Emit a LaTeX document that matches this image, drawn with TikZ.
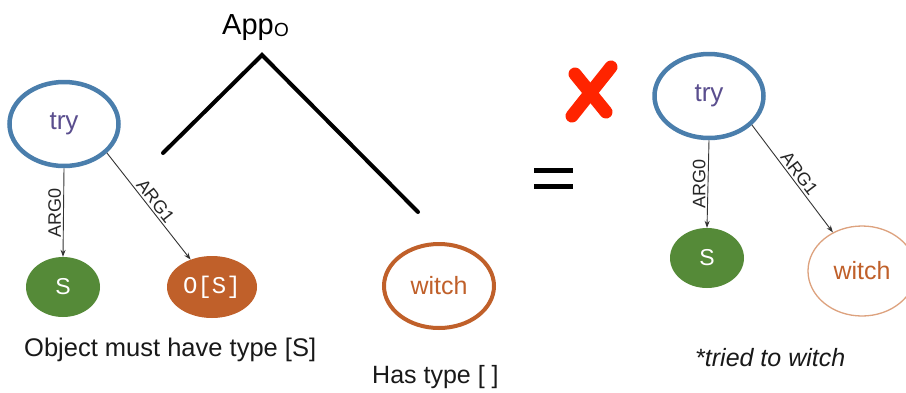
\documentclass[tikz,border=0pt]{standalone}
\usepackage{fontspec}
\setmainfont{Liberation Sans}
\setmonofont{Liberation Mono}
\usetikzlibrary{arrows.meta,shapes.geometric}

\definecolor{tryblue}{HTML}{4A7EAC}
\definecolor{trytext}{HTML}{5A4E8E}
\definecolor{sgreen}{HTML}{558A38}
\definecolor{rust}{HTML}{C0602A}
\definecolor{paleorange}{HTML}{DDA27E}
\definecolor{crossred}{HTML}{FF2400}

\tikzset{
  fs/.style={font=\fontsize{#1}{#1}\selectfont},
  tryellipse/.style={ellipse, draw=tryblue, line width=4.5pt, minimum width=109pt, minimum height=84pt,
    text=trytext, fs=26, inner sep=0pt},
  sbox/.style={ellipse, fill=sgreen, minimum width=74pt, minimum height=60pt, text=white, fs=23, inner sep=0pt},
  osbox/.style={ellipse, fill=rust, minimum width=90pt, minimum height=62pt, text=white,
    font=\ttfamily\fontsize{24}{24}\selectfont, inner sep=0pt},
  witchbold/.style={ellipse, draw=rust, line width=4pt, minimum width=110pt, minimum height=84pt,
    text=rust, fs=25, inner sep=0pt},
  witchthin/.style={ellipse, draw=paleorange, line width=1.3pt, minimum width=108pt, minimum height=90pt,
    text=rust, fs=25, inner sep=0pt},
  edge/.style={draw=black!80, line width=0.9pt, -{Stealth[length=7pt,width=5pt]}},
  elabel/.style={fs=18, text=black!85, inner sep=2pt},
  caption/.style={fs=25.5, text=black!90, inner sep=0pt},
  treeline/.style={line width=4pt, line cap=round},
  crossstroke/.style={draw=crossred, line width=13pt, line cap=round},
  equalbar/.style={line width=5pt}
}

\begin{document}
\begin{tikzpicture}[x=1pt, y=-1pt]
  \useasboundingbox (0,0) rectangle (906,392);
  \fill[white] (0,0) rectangle (906,392);

  % application node and its two branches
  \node[fs=29, anchor=base west, inner sep=0pt] (app) at (222,34) {App};
  \node[fs=19, anchor=base west, inner sep=0pt] (appsub) at ([yshift=-2pt]app.base east) {O};
  \coordinate (apex) at (262,55);
  \coordinate (lend) at (163,153);
  \coordinate (rend) at (418,212);
  \draw[treeline] (lend) -- (apex) -- (rend);

  % left graph: try with its two arguments
  \node[tryellipse] (try1) at (64,124) {try};
  \node[sbox] (s1) at (63,287) {S};
  \node[osbox] (os1) at (212,287) {O[S]};
  \draw[edge] (try1.south) -- node[midway, rotate=90, anchor=south, elabel] {ARG0} (s1.north);
  \draw[edge] (try1.-34) -- node[midway, sloped, above, elabel] {ARG1} (os1.128);

  \node[witchbold] (witch1) at (439,286) {witch};

  \node[caption, anchor=west] (cap1) at (24,350) {Object must have type [S]};
  \node[caption, fs=25, anchor=west] (cap2) at (372,377) {Has type [ ]};

  % equals sign and red cross
  \coordinate (eqa) at (534,170);
  \coordinate (eqb) at (573,170);
  \coordinate (eqc) at (534,186);
  \coordinate (eqd) at (573,186);
  \draw[equalbar] (eqa) -- (eqb);
  \draw[equalbar] (eqc) -- (eqd);

  \coordinate (xa) at (611,67);
  \coordinate (xb) at (572,116);
  \coordinate (xc) at (575,74);
  \coordinate (xd) at (606,112);
  \draw[crossstroke] (xa) -- (xb);
  \draw[crossstroke] (xc) -- (xd);

  % right graph: the resulting reading
  \node[tryellipse] (try2) at (709,96) {try};
  \node[sbox] (s2) at (707,258) {S};
  \node[witchthin] (witch2) at (862,271) {witch};
  \draw[edge] (try2.south) -- node[midway, rotate=90, anchor=south, elabel] {ARG0} (s2.north);
  \draw[edge] (try2.-34) -- node[midway, sloped, above, elabel] {ARG1} (witch2.127);

  \node[caption, anchor=west, font={\itshape\fontsize{25}{25}\selectfont}] (cap3) at (695,358) {*tried to witch};
\end{tikzpicture}
\end{document}
